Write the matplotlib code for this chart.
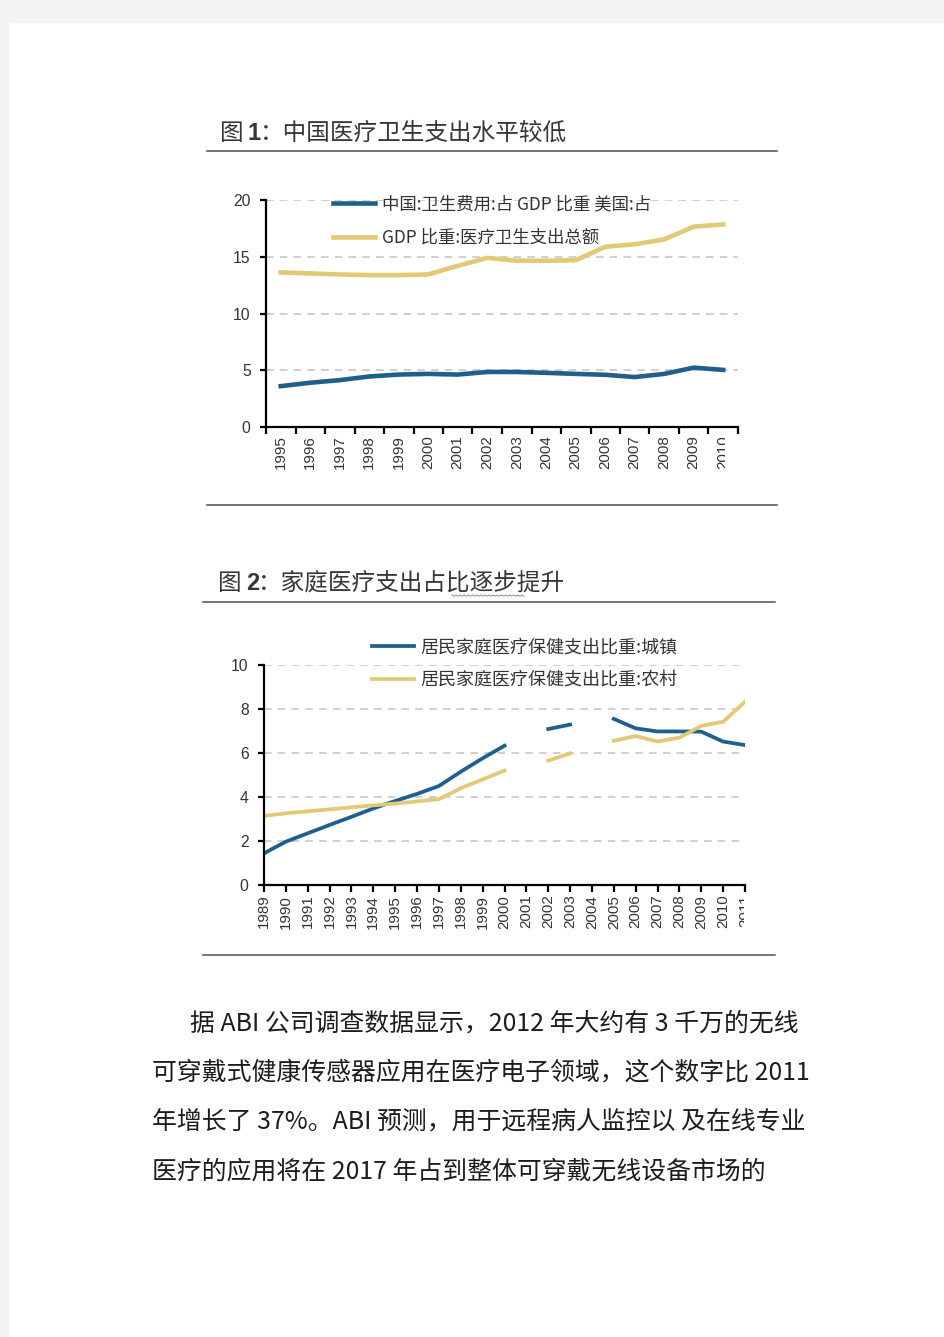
import matplotlib
matplotlib.use("Agg")
import matplotlib.pyplot as plt
from matplotlib import font_manager
from matplotlib.lines import Line2D
from matplotlib.patches import Rectangle
from matplotlib.transforms import Bbox
import numpy as np

plt.rcParams['font.family'] = ['Noto Sans CJK SC', 'DejaVu Sans']

nan = float('nan')

# chart 1: health spending as share of GDP
years1 = ['1995', '1996', '1997', '1998', '1999', '2000', '2001', '2002',
          '2003', '2004', '2005', '2006', '2007', '2008', '2009', '2010']
china_share = [3.6, 3.9, 4.13, 4.45, 4.62, 4.68, 4.62, 4.85,
               4.85, 4.77, 4.68, 4.6, 4.4, 4.68, 5.23, 5.03]
usa_share = [13.62, 13.53, 13.44, 13.38, 13.38, 13.44, 14.2, 14.9,
             14.65, 14.65, 14.7, 15.88, 16.1, 16.53, 17.65, 17.85]
labels1 = ['中国:卫生费用:占 GDP 比重 美国:占', 'GDP 比重:医疗卫生支出总额']
yticks1 = [0, 5, 10, 15, 20]

# chart 2: household health spending share
years2 = [1989, 1990, 1991, 1992, 1993, 1994, 1995, 1996, 1997, 1998, 1999, 2000,
          2001, 2002, 2003, 2004, 2005, 2006, 2007, 2008, 2009, 2010, 2011]
urban = [1.44, 1.97, 2.35, 2.73, 3.1, 3.48, 3.82, 4.14, 4.5, 5.15, 5.76, 6.33,
         nan, 7.09, 7.29, nan, 7.55, 7.12, 6.98, 6.98, 6.97, 6.52, 6.36]
rural = [3.14, 3.26, 3.35, 3.44, 3.53, 3.62, 3.7, 3.8, 3.9, 4.4, 4.8, 5.2,
         nan, 5.65, 5.98, nan, 6.56, 6.77, 6.52, 6.7, 7.23, 7.42, 8.33]
labels2 = ['居民家庭医疗保健支出比重:城镇', '居民家庭医疗保健支出比重:农村']
yticks2 = [0, 2, 4, 6, 8, 10]

title1 = ('图', '1', '：中国医疗卫生支出水平较低')
title2 = ('图', '2', '：家庭医疗支出占比逐步提升')
para = ['据 ABI 公司调查数据显示，2012 年大约有 3 千万的无线',
        '可穿戴式健康传感器应用在医疗电子领域，这个数字比 2011',
        '年增长了 37%。ABI 预测，用于远程病人监控以 及在线专业',
        '医疗的应用将在 2017 年占到整体可穿戴无线设备市场的']

BLUE = '#1f5f8e'
GOLD = '#e1c976'
W, H = 945, 1337

names = {f.name for f in font_manager.fontManager.ttflist}
if 'Liberation Sans Narrow' in names:
    NUM = 'Liberation Sans Narrow'
    nsz = 1.0
else:
    NUM = 'Liberation Sans'
    nsz = 0.87


def fx(px):
    return px / W


def fy(py):
    return 1 - py / H


fig = plt.figure(figsize=(W / 100, H / 100), dpi=100)
fig.patch.set_facecolor('white')
fig.patches.append(Rectangle((0, fy(22)), 1, 22 / H, transform=fig.transFigure,
                             color='#f3f3f3', zorder=0))
fig.patches.append(Rectangle((0, 0), 8 / W, 1, transform=fig.transFigure,
                             color='#f3f3f3', zorder=0))


def hrule(x0, x1, y):
    fig.add_artist(Line2D([fx(x0), fx(x1)], [fy(y), fy(y)], color='#505050',
                          lw=1.1, transform=fig.transFigure))


def title(parts, x, y):
    fig.text(fx(x), fy(y), parts[0], fontsize=17, color='#363636', va='center')
    fig.text(fx(x + 28), fy(y), parts[1], fontsize=17, color='#363636',
             va='center', fontweight='bold', family=['Liberation Sans'])
    fig.text(fx(x + 40), fy(y), parts[2], fontsize=17, color='#363636', va='center')


def add_ax(l, t, r, b):
    return fig.add_axes([fx(l), fy(b), fx(r) - fx(l), (b - t) / H])


def style(ax, yticks):
    for s in ['top', 'right']:
        ax.spines[s].set_visible(False)
    for s in ['left', 'bottom']:
        ax.spines[s].set_linewidth(1.6)
        ax.spines[s].set_color('black')
    ax.set_ylim(yticks[0], yticks[-1])
    ax.set_yticks(yticks)
    ax.yaxis.grid(True, linestyle=(0, (5, 4)), color='#c4c4c4', linewidth=1.1)
    ax.set_axisbelow(True)
    ax.tick_params(axis='y', direction='out', length=4, width=1.6, pad=7,
                   labelsize=13 * nsz, labelcolor='#333333')
    for lab in ax.get_yticklabels():
        lab.set_family(NUM)


# ---- chart 1
title(title1, 220, 133)
hrule(207, 777, 151)
hrule(207, 777, 505)

ax1 = add_ax(266, 200, 738, 427)
style(ax1, yticks1)
x1 = np.arange(len(years1))
ax1.plot(x1, china_share, color=BLUE, lw=3.3, label=labels1[0])
ax1.plot(x1, usa_share, color=GOLD, lw=3.3, label=labels1[1])
ax1.set_xlim(-0.5, len(years1) - 0.5)
ax1.set_xticks(np.arange(len(years1) + 1) - 0.5)
ax1.set_xticklabels([])
ax1.set_xticks(x1, minor=True)
ax1.set_xticklabels(years1, minor=True, rotation=90, family=NUM,
                    fontsize=12.5 * nsz, color='#333333')
ax1.tick_params(axis='x', which='major', direction='out', length=5, width=1.6)
ax1.tick_params(axis='x', which='minor', length=0, pad=6)
ax1.legend(loc='center left', bbox_to_anchor=(fx(333), fy(221)),
           bbox_transform=fig.transFigure, frameon=False, borderpad=0,
           borderaxespad=0, handlelength=2.4, handletextpad=0.45,
           labelspacing=0.9, prop={'size': 12.5}, labelcolor='#333333')

# ---- chart 2
title(title2, 218, 583)
hrule(203, 775, 602)
hrule(203, 775, 955)
sq = np.linspace(452, 524, 36)
fig.add_artist(Line2D(fx(sq), fy(595 + 1.2 * np.tile([0, 1], 18)), color='#9a9a9a',
                      lw=0.8, transform=fig.transFigure))

ax2 = add_ax(264, 665, 745, 885)
style(ax2, yticks2)
ax2.plot(years2, urban, color=BLUE, lw=2.7, label=labels2[0])
ax2.plot(years2, rural, color=GOLD, lw=2.7, label=labels2[1])
ax2.set_xlim(years2[0], years2[-1])
ax2.set_xticks(years2)
ax2.set_xticklabels([str(y) for y in years2], rotation=90, family=NUM,
                    fontsize=12.5 * nsz, color='#333333')
ax2.tick_params(axis='x', direction='out', length=5, width=1.6, pad=2)
ax2.legend(loc='center left', bbox_to_anchor=(fx(372), fy(664)),
           bbox_transform=fig.transFigure, frameon=False, borderpad=0,
           borderaxespad=0, handlelength=2.3, handletextpad=0.4,
           labelspacing=0.85, prop={'size': 13}, labelcolor='#333333')

# ---- paragraph
for i, line in enumerate(para):
    x = 190 if i == 0 else 152
    fig.text(fx(x), fy(1023 + 49.6 * i), line, fontsize=17.9, color='#1c1c1c',
             va='center')

# clip the cut-off last year labels like the source scan
fig.canvas.draw()
r = fig.canvas.get_renderer()
last1 = ax1.xaxis.get_minorticklabels()[-1]
bb = last1.get_window_extent(r)
last1.set_clip_box(Bbox.from_extents(0, 0, bb.x0 + 0.6 * bb.width, H))
last1.set_clip_on(True)
last2 = ax2.get_xticklabels()[-1]
bb = last2.get_window_extent(r)
last2.set_clip_box(Bbox.from_extents(0, 0, bb.x0 + 0.45 * bb.width, H))
last2.set_clip_on(True)

fig.savefig('out.png', dpi=100, facecolor='white')
